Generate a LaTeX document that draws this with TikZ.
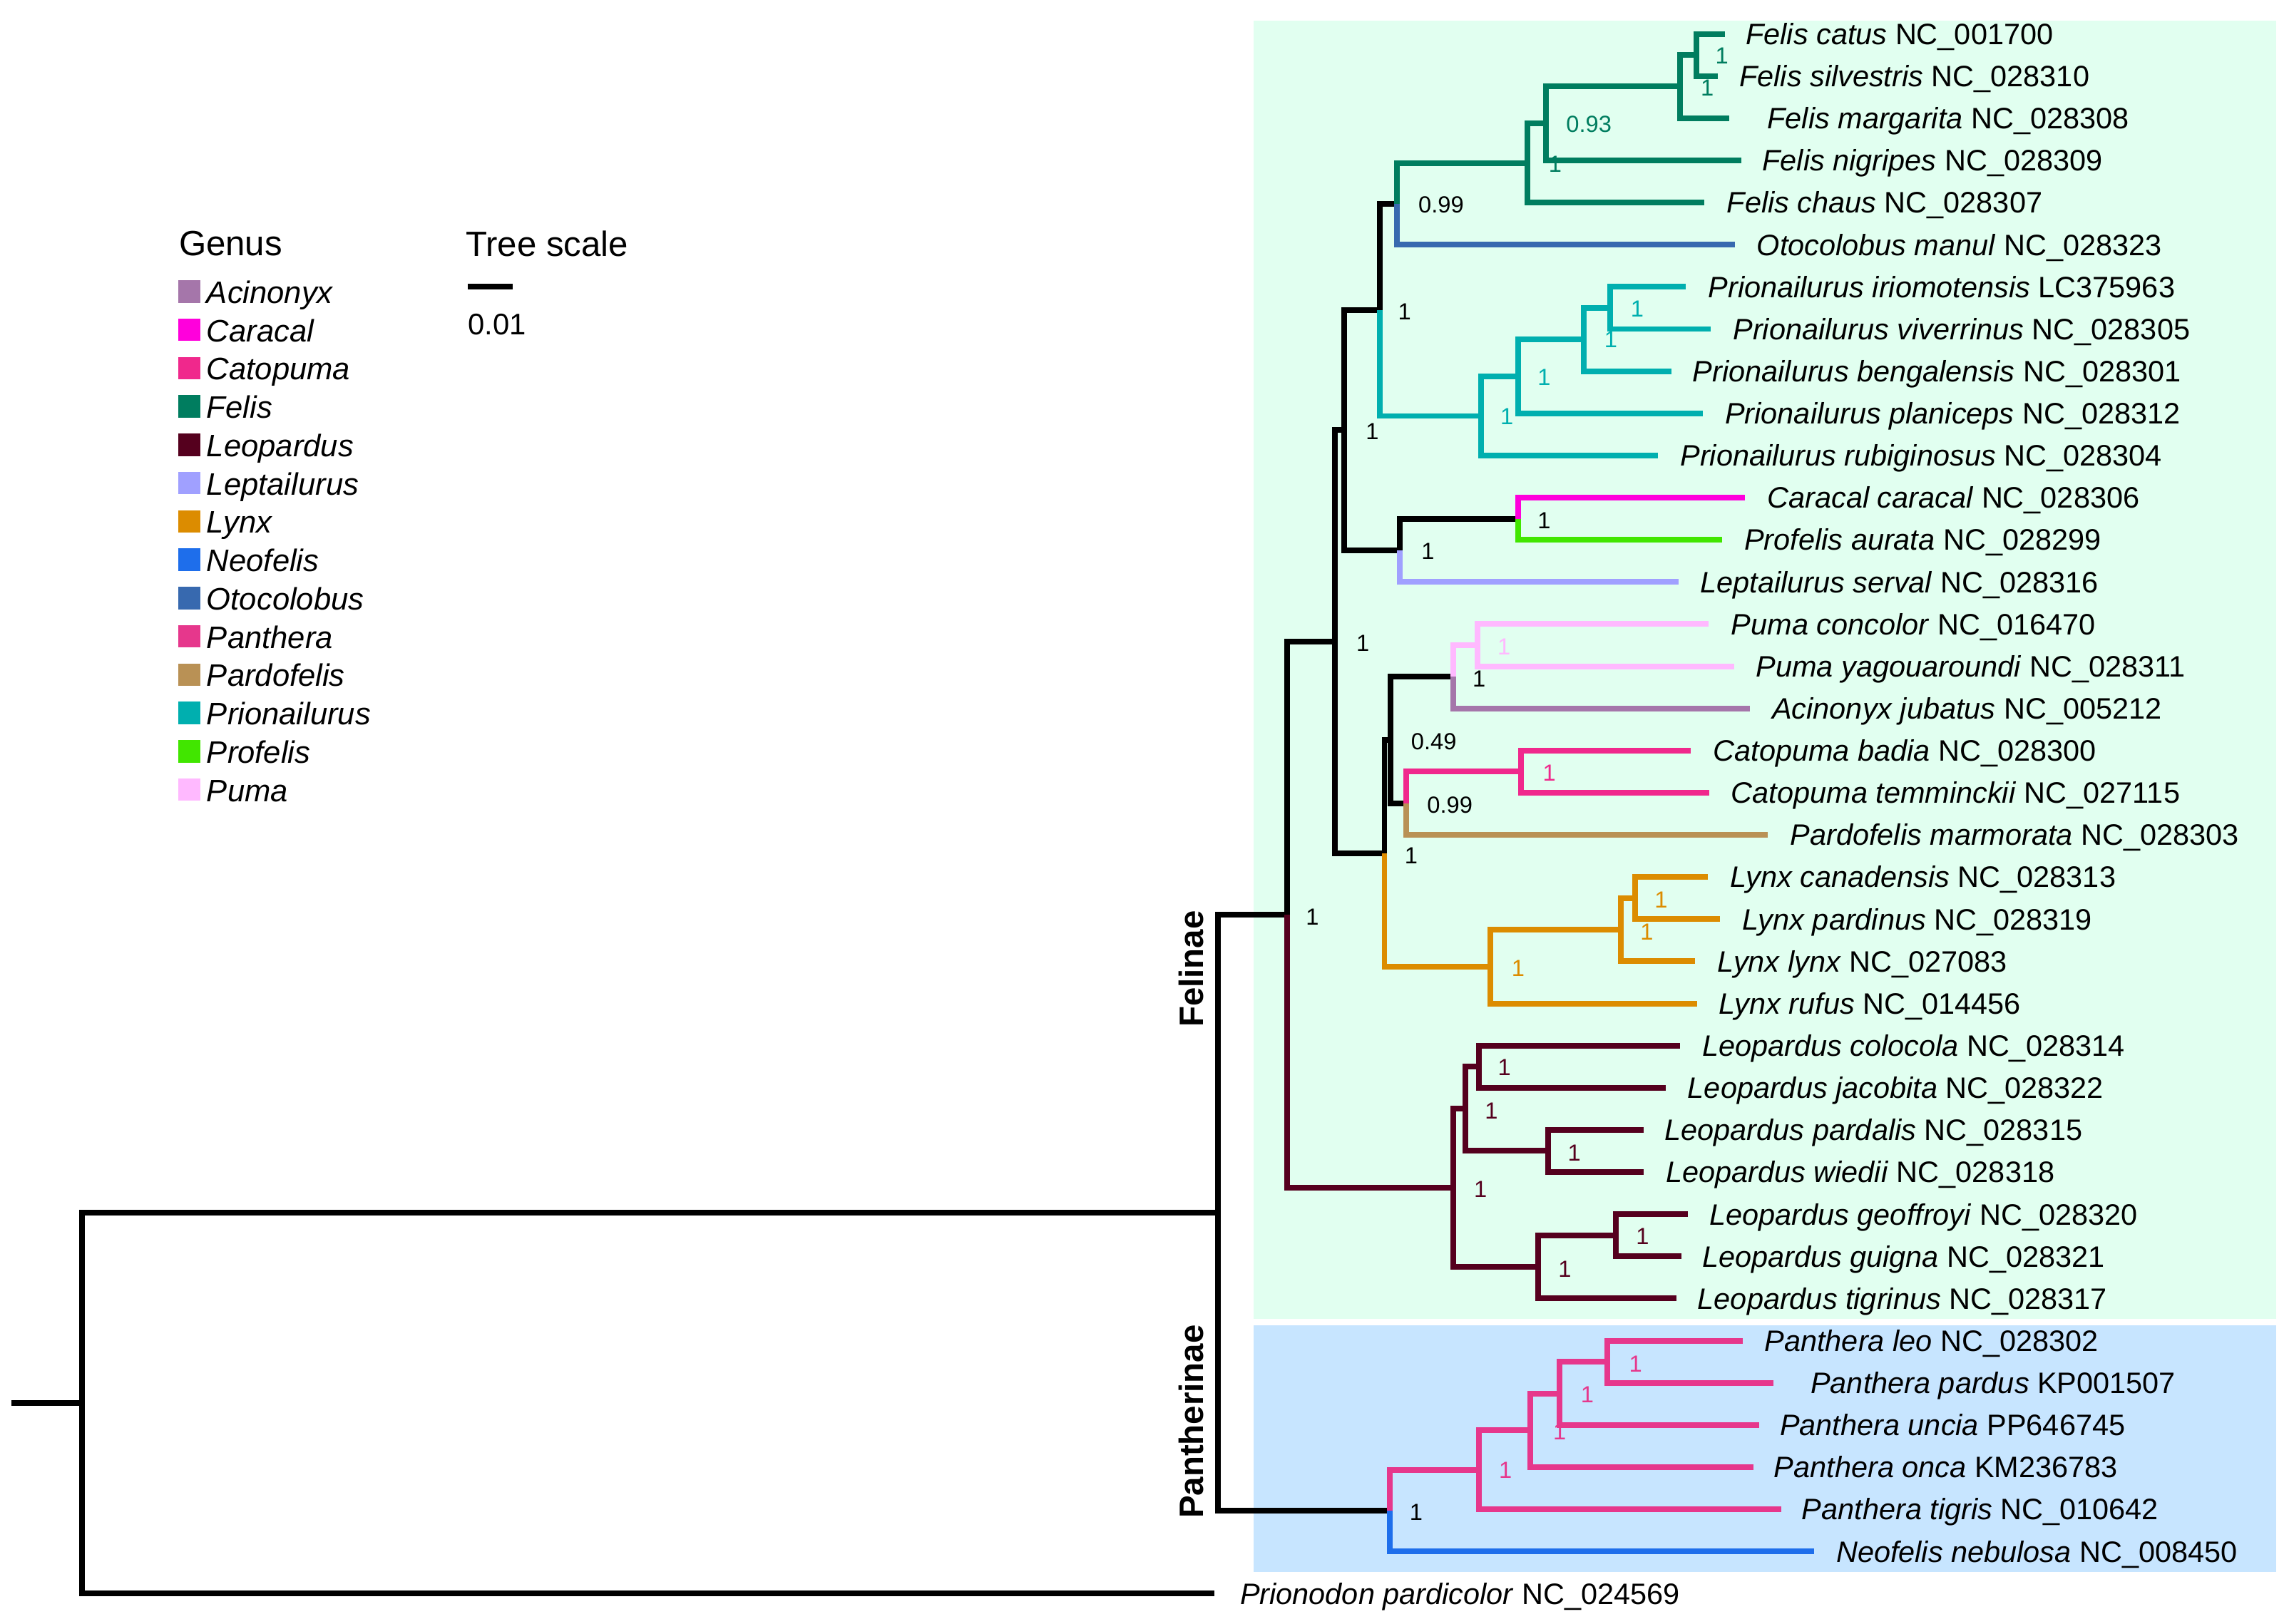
\documentclass[tikz,border=0pt]{standalone}
\usepackage{fontspec}
\setmainfont{Liberation Sans}
\usetikzlibrary{calc}

\definecolor{cAcinonyx}{RGB}{165,118,170}
\definecolor{cCaracal}{RGB}{255,0,220}
\definecolor{cCatopuma}{RGB}{240,40,140}
\definecolor{cFelis}{RGB}{0,125,95}
\definecolor{cLeopardus}{RGB}{85,0,30}
\definecolor{cLeptailurus}{RGB}{160,160,255}
\definecolor{cLynx}{RGB}{220,140,0}
\definecolor{cNeofelis}{RGB}{30,110,235}
\definecolor{cOtocolobus}{RGB}{55,105,175}
\definecolor{cPanthera}{RGB}{230,55,140}
\definecolor{cPardofelis}{RGB}{185,145,85}
\definecolor{cPrionailurus}{RGB}{0,175,175}
\definecolor{cProfelis}{RGB}{65,230,0}
\definecolor{cPuma}{RGB}{255,185,255}
\definecolor{felinaebg}{RGB}{225,255,240}
\definecolor{pantherinaebg}{RGB}{199,229,255}

% tip: name, branch end x, label x, row, text
\newcommand{\tip}[5]{%
	\coordinate (#1) at (#2,{23.2+28.82*#4});
	\node[tiplab] (#1-lab) at (#3,{23.2+28.82*#4}) {#5};}

\begin{document}
\begin{tikzpicture}[x=0.020517cm,y=-0.020517cm,
	br/.style={line width=2.27pt},
	tiplab/.style={anchor=base west,inner sep=0pt,yshift=-0.148cm,font=\fontsize{11.8}{14}\selectfont},
	bootval/.style={inner sep=0pt,font=\fontsize{9.3}{11}\selectfont},
	leglab/.style={anchor=base west,inner sep=0pt,yshift=-0.164cm,font=\fontsize{12.4}{15}\selectfont\itshape},
	legbox/.style={draw=none,minimum size=0.314cm,inner sep=0pt},
	subfam/.style={rotate=90,inner sep=0pt,font=\fontsize{13.5}{16}\selectfont\bfseries}]
	\useasboundingbox (0,0) rectangle (1568,1110);
	\fill[felinaebg] (857,14.1) rectangle (1556,901.7); %Felinae
	\fill[pantherinaebg] (857,906) rectangle (1556,1074.7); %Pantherinae

	% tips
	\tip{catus}{1179}{1193}{0}{\textit{Felis catus} NC\_001700}
	\tip{silvestris}{1174}{1188.6}{1}{\textit{Felis silvestris} NC\_028310}
	\tip{margarita}{1182}{1207.7}{2}{\textit{Felis margarita} NC\_028308}
	\tip{nigripes}{1190}{1204.3}{3}{\textit{Felis nigripes} NC\_028309}
	\tip{chaus}{1165}{1180}{4}{\textit{Felis chaus} NC\_028307}
	\tip{otocolobus}{1186}{1200.5}{5}{\textit{Otocolobus manul} NC\_028323}
	\tip{iriomotensis}{1152.4}{1167.3}{6}{\textit{Prionailurus iriomotensis} LC375963}
	\tip{viverrinus}{1169.4}{1184.3}{7}{\textit{Prionailurus viverrinus} NC\_028305}
	\tip{bengalensis}{1142.7}{1156.7}{8}{\textit{Prionailurus bengalensis} NC\_028301}
	\tip{planiceps}{1164}{1178.8}{9}{\textit{Prionailurus planiceps} NC\_028312}
	\tip{rubiginosus}{1133.3}{1148.2}{10}{\textit{Prionailurus rubiginosus} NC\_028304}
	\tip{caracal}{1192.8}{1207.7}{11}{\textit{Caracal caracal} NC\_028306}
	\tip{profelis}{1177}{1192}{12}{\textit{Profelis aurata} NC\_028299}
	\tip{leptailurus}{1147.3}{1161.8}{13}{\textit{Leptailurus serval} NC\_028316}
	\tip{concolor}{1167.7}{1183}{14}{\textit{Puma concolor} NC\_016470}
	\tip{yagouaroundi}{1185.2}{1200}{15}{\textit{Puma yagouaroundi} NC\_028311}
	\tip{acinonyx}{1196.2}{1211}{16}{\textit{Acinonyx jubatus} NC\_005212}
	\tip{badia}{1155.8}{1170.7}{17}{\textit{Catopuma badia} NC\_028300}
	\tip{temminckii}{1168.2}{1183}{18}{\textit{Catopuma temminckii} NC\_027115}
	\tip{pardofelis}{1208.5}{1223.4}{19}{\textit{Pardofelis marmorata} NC\_028303}
	\tip{canadensis}{1167.3}{1182.2}{20}{\textit{Lynx canadensis} NC\_028313}
	\tip{pardinus}{1175.8}{1190.7}{21}{\textit{Lynx pardinus} NC\_028319}
	\tip{lynx}{1158.8}{1173.7}{22}{\textit{Lynx lynx} NC\_027083}
	\tip{rufus}{1160}{1174.5}{23}{\textit{Lynx rufus} NC\_014456}
	\tip{colocola}{1148.2}{1163.1}{24}{\textit{Leopardus colocola} NC\_028314}
	\tip{jacobita}{1138.8}{1153.3}{25}{\textit{Leopardus jacobita} NC\_028322}
	\tip{pardalis}{1123.5}{1137.6}{26}{\textit{Leopardus pardalis} NC\_028315}
	\tip{wiedii}{1123.5}{1138.4}{27}{\textit{Leopardus wiedii} NC\_028318}
	\tip{geoffroyi}{1153.7}{1168.2}{28}{\textit{Leopardus geoffroyi} NC\_028320}
	\tip{guigna}{1149.5}{1163.1}{29}{\textit{Leopardus guigna} NC\_028321}
	\tip{tigrinus}{1146}{1160.1}{30}{\textit{Leopardus tigrinus} NC\_028317}
	\tip{leo}{1191.3}{1205.8}{31}{\textit{Panthera leo} NC\_028302}
	\tip{pardus}{1212.3}{1237.3}{32}{\textit{Panthera pardus} KP001507}
	\tip{uncia}{1202.3}{1216.3}{33}{\textit{Panthera uncia} PP646745}
	\tip{onca}{1198.3}{1212.3}{34}{\textit{Panthera onca} KM236783}
	\tip{tigris}{1217.3}{1231.3}{35}{\textit{Panthera tigris} NC\_010642}
	\tip{neofelis}{1239.8}{1254.8}{36}{\textit{Neofelis nebulosa} NC\_008450}
	\tip{prionodon}{830}{847.3}{37}{\textit{Prionodon pardicolor} NC\_024569}

	% internal nodes
	\coordinate (stem) at (8,959.3);
	\coordinate (root) at (56,959.3);
	\coordinate (felidae) at (832.3,829.2);
	\coordinate (felinae) at (880,625.5);
	\coordinate (panth) at (949.8,1032.8);
	\coordinate (nB) at (912.3,438.8);
	\coordinate (nC) at (918.7,294.1);
	\coordinate (nE) at (943,211.9);
	\coordinate (nG) at (955,139.4);
	\coordinate (nFel1) at (1044.1,111.5);
	\coordinate (nFel2) at (1056.8,84.45);
	\coordinate (nFel3) at (1148.2,59.2);
	\coordinate (nFel4) at (1159.7,37.6);
	\coordinate (nPri1) at (1012.2,284.4);
	\coordinate (nPri2) at (1037.7,257.4);
	\coordinate (nPri3) at (1082.3,232.2);
	\coordinate (nPri4) at (1100.6,210.5);
	\coordinate (nF) at (957,376.3);
	\coordinate (nCar) at (1037.7,354.6);
	\coordinate (nD) at (946.3,583.4);
	\coordinate (nI) at (950.6,506);
	\coordinate (nJ) at (993.1,462.7);
	\coordinate (nPum) at (1010.1,441.1);
	\coordinate (nK) at (961.2,549.2);
	\coordinate (nCat) at (1039.8,527.6);
	\coordinate (nLyn1) at (1018.6,660.9);
	\coordinate (nLyn2) at (1107.8,635.6);
	\coordinate (nLyn3) at (1117.6,614);
	\coordinate (nLeo1) at (993.1,812.2);
	\coordinate (nLeo2) at (1001.6,758.1);
	\coordinate (nLeo3) at (1010.9,729.3);
	\coordinate (nLeo4) at (1058.1,786.9);
	\coordinate (nLeo5) at (1051.3,866.2);
	\coordinate (nLeo6) at (1104.4,844.6);
	\coordinate (nPan1) at (1010.8,1004.9);
	\coordinate (nPan2) at (1045.8,977.9);
	\coordinate (nPan3) at (1065.8,952.7);
	\coordinate (nPan4) at (1098.8,931);

	% branches
	\draw[br] (stem) -- (root);
	\draw[br] (root) |- (felidae);
	\draw[br] (root) |- (prionodon);
	\draw[br] (felidae) |- (felinae);
	\draw[br] (felidae) |- (panth);
	\draw[br] (felinae) |- (nB);
	\draw[br,cLeopardus] (felinae) |- (nLeo1);
	\draw[br] (nB) |- (nC);
	\draw[br] (nB) |- (nD);
	\draw[br] (nC) |- (nE);
	\draw[br] (nC) |- (nF);
	\draw[br] (nE) |- (nG);
	\draw[br,cOtocolobus] (nG) |- (otocolobus);
	\draw[br,cFelis] (nG) |- (nFel1) (nFel1) |- (chaus) (nFel1) |- (nFel2)
		(nFel2) |- (nigripes) (nFel2) |- (nFel3) (nFel3) |- (margarita)
		(nFel3) |- (nFel4) (nFel4) |- (catus) (nFel4) |- (silvestris); %Felis
	\draw[br,cPrionailurus] (nE) |- (nPri1) (nPri1) |- (rubiginosus) (nPri1) |- (nPri2)
		(nPri2) |- (planiceps) (nPri2) |- (nPri3) (nPri3) |- (bengalensis)
		(nPri3) |- (nPri4) (nPri4) |- (iriomotensis) (nPri4) |- (viverrinus); %Prionailurus
	\draw[br] (nF) |- (nCar);
	\draw[br,cLeptailurus] (nF) |- (leptailurus);
	\draw[br,cCaracal] (nCar) |- (caracal);
	\draw[br,cProfelis] (nCar) |- (profelis);
	\draw[br] (nD) |- (nI);
	\draw[br] (nI) |- (nJ);
	\draw[br] (nI) |- (nK);
	\draw[br,cPuma] (nJ) |- (nPum) (nPum) |- (concolor) (nPum) |- (yagouaroundi); %Puma
	\draw[br,cAcinonyx] (nJ) |- (acinonyx);
	\draw[br,cCatopuma] (nK) |- (nCat) (nCat) |- (badia) (nCat) |- (temminckii); %Catopuma
	\draw[br,cPardofelis] (nK) |- (pardofelis);
	\draw[br,cLynx] (nD) |- (nLyn1) (nLyn1) |- (rufus) (nLyn1) |- (nLyn2)
		(nLyn2) |- (lynx) (nLyn2) |- (nLyn3) (nLyn3) |- (canadensis) (nLyn3) |- (pardinus); %Lynx
	\draw[br,cLeopardus] (nLeo1) |- (nLeo2) (nLeo1) |- (nLeo5)
		(nLeo2) |- (nLeo3) (nLeo2) |- (nLeo4)
		(nLeo3) |- (colocola) (nLeo3) |- (jacobita)
		(nLeo4) |- (pardalis) (nLeo4) |- (wiedii)
		(nLeo5) |- (nLeo6) (nLeo5) |- (tigrinus)
		(nLeo6) |- (geoffroyi) (nLeo6) |- (guigna); %Leopardus
	\draw[br,cPanthera] (panth) |- (nPan1) (nPan1) |- (tigris) (nPan1) |- (nPan2)
		(nPan2) |- (onca) (nPan2) |- (nPan3) (nPan3) |- (uncia) (nPan3) |- (nPan4)
		(nPan4) |- (leo) (nPan4) |- (pardus); %Panthera
	\draw[br,cNeofelis] (panth) |- (neofelis);

	% support values
	\foreach \px/\py/\c/\t [count=\i] in {
		1177/38/cFelis/1, 1167/60/cFelis/1, 1086/85/cFelis/0.93, 1063/112/cFelis/1,
		985/140/black/0.99, 960/213/black/1,
		1119/211/cPrionailurus/1, 1101/232/cPrionailurus/1, 1055.5/258/cPrionailurus/1, 1030/285/cPrionailurus/1,
		938/295/black/1, 1055.5/356/black/1, 976/377/black/1, 931.5/440/black/1,
		1028/442/cPuma/1, 1011/464/black/1, 980/507/black/0.49, 1059/528.5/cCatopuma/1,
		991/550.5/black/0.99, 964.5/585/black/1,
		1135.4/615/cLynx/1, 1125.7/637/cLynx/1, 1037.7/662/cLynx/1,
		1028.3/730/cLeopardus/1, 1019.4/759.5/cLeopardus/1, 1076/788.5/cLeopardus/1,
		1012/813/cLeopardus/1, 1122.7/845.5/cLeopardus/1, 1069.6/867.5/cLeopardus/1,
		897/627/black/1,
		1118/932.5/cPanthera/1, 1085/953.5/cPanthera/1, 1066/978.6/cPanthera/1, 1029/1005.3/cPanthera/1,
		968/1033.7/black/1}
		\node[bootval,text=\c] (bs-\i) at (\px,\py) {\t};

	% subfamilies
	\node[subfam] (felinae-lab) at (814,662.5) {Felinae};
	\node[subfam] (pantherinae-lab) at (814,972) {Pantherinae};

	% legend
	\node[anchor=west,inner sep=0pt,font=\fontsize{14}{17}\selectfont] (genus) at (122,166.5) {Genus};
	\foreach \g [count=\i from 0] in {Acinonyx,Caracal,Catopuma,Felis,Leopardus,Leptailurus,Lynx,Neofelis,Otocolobus,Panthera,Pardofelis,Prionailurus,Profelis,Puma}{
		\node[legbox,fill=c\g] (box-\g) at (129.5,{199.3+26.2*\i}) {};
		\node[leglab] (leg-\g) at (141,{199.3+26.2*\i}) {\g};
	}

	% tree scale
	\node[anchor=west,inner sep=0pt,font=\fontsize{14}{17}\selectfont] (scale-title) at (318,166.5) {Tree scale};
	\coordinate (scaleL) at (319.7,196.1);
	\coordinate (scaleR) at (350.6,196.1);
	\draw[line width=2.35pt] (scaleL) -- (scaleR);
	\node[anchor=west,inner sep=0pt,font=\fontsize{11.9}{14}\selectfont] (scale-val) at (319.7,221.8) {0.01};
\end{tikzpicture}
\end{document}
